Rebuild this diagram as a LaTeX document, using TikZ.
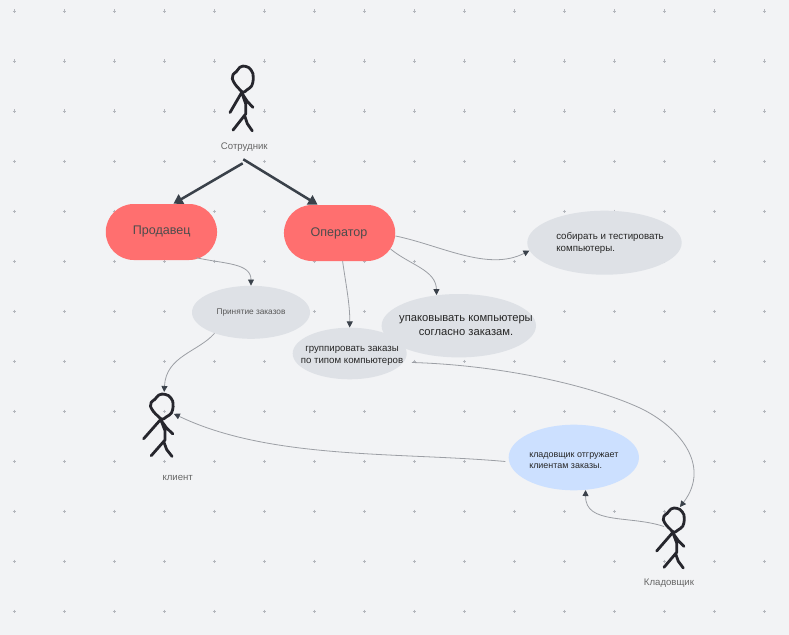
\documentclass[tikz,border=0pt]{standalone}
\usepackage{fontspec}
\setmainfont{Liberation Sans}
\usetikzlibrary{arrows.meta,calc,shapes.geometric,shapes.misc}

\definecolor{boardbg}{HTML}{F2F3F5}
\definecolor{gridplus}{HTML}{B4B7BD}
\definecolor{rolered}{HTML}{FF6F6F}
\definecolor{taskgrey}{HTML}{DEE1E6}
\definecolor{taskblue}{HTML}{CCE0FF}
\definecolor{inkdark}{HTML}{26262D}
\definecolor{linkgrey}{HTML}{9C9FA5}
\definecolor{tipdark}{HTML}{3A414A}

\tikzset{
    role/.style={rounded rectangle,fill=rolered,inner sep=0pt,minimum width=111.3*0.75pt,minimum height=56*0.75pt},
    task/.style={ellipse,fill=taskgrey,inner sep=0pt},
    tasktext/.style={inner sep=0pt,text=black!85,align=center,font=\fontsize{7.3}{9}\selectfont},
    rolename/.style={inner sep=0pt,text=black!70,font=\fontsize{9.4}{11}\selectfont},
    actorname/.style={inner sep=0pt,text=black!60,font=\fontsize{7.2}{9}\selectfont},
    link/.style={draw=linkgrey,line width=0.6pt,-{Triangle[color=tipdark,length=4.5pt,width=4.5pt]}},
    bigarrow/.style={draw=tipdark,line width=1.9pt,-{Triangle[length=7pt,width=8pt]}},
    stickman/.pic={
        \draw[inkdark,line width=2.1pt,line cap=round,line join=round]
            plot[smooth,tension=.6] coordinates {(-7.3,7) (-3,2) (0,1) (6,2.5) (10,8) (10.3,13) (8.7,19.3) (4,23) (0,25.3) (-4,22) (-8,17.7) (-10.7,12.7) (-10,9) (-6.5,6)}
            (-1.7,26) -- (#1,44)
            (-0.7,26.7) -- (4.3,33.7) -- (10,39.3)
            (-0.7,26.7) -- (2.7,36) -- (2.7,45.3) -- (-10,60.3)
            (1.5,46.5) -- (4.3,54.3) -- (9.3,61);
        \coordinate (-top) at (2,-1);
        \coordinate (-side) at (11,20);
        \coordinate (-left) at (-10,19.5);
    }
}

\begin{document}
\begin{tikzpicture}[x=0.75pt,y=-0.75pt]

    \fill[boardbg] (0,0) rectangle (789,635);
    \useasboundingbox (0,0) rectangle (789,635);

    % board grid
    \foreach \gx in {0,...,15}
        \foreach \gy in {0,...,12}
            \draw[gridplus,line width=0.7pt] ({14.3+50*\gx-1.8},{11.3+50*\gy}) -- ++(3.6,0) ({14.3+50*\gx},{11.3+50*\gy-1.8}) -- ++(0,3.6);

    % actors
    \pic[yscale=1.08] (staff) at (243,65) {stickman=-13};
    \pic[xscale=1.08,yscale=1.04] (client) at (162,393) {stickman=-17};
    \pic (keeper) at (674,507) {stickman=-17.3};

    \node[actorname] (staffname) at (244.3,146.7) {Сотрудник};
    \node[actorname] (clientname) at (177.7,477.5) {клиент};
    \node[actorname] (keepername) at (669,583) {Кладовщик};

    % roles
    \node[role] (seller) at (161.4,232) {};
    \node[role] (oper) at (339.6,233) {};
    \node[rolename] (sellername) at (161.7,231.7) {Продавец};
    \node[rolename] (opername) at (339,233) {Оператор};

    % tasks
    \node[task,minimum width=118*0.75pt,minimum height=53*0.75pt] (accept) at (251,312.3) {};
    \node[task,minimum width=154.4*0.75pt,minimum height=63.4*0.75pt] (pack) at (458.8,325.7) {};
    \node[task,minimum width=114*0.75pt,minimum height=51.6*0.75pt] (group) at (349.7,353.5) {};
    \node[task,minimum width=154.4*0.75pt,minimum height=64*0.75pt] (collect) at (604.5,242.7) {};
    \node[task,fill=taskblue,minimum width=130.3*0.75pt,minimum height=65.6*0.75pt] (ship) at (573.8,457.5) {};

    \node[tasktext,text=black!65,font=\fontsize{6.2}{8}\selectfont] (accepttext) at (251,312.5) {Принятие заказов};
    \node[tasktext,font=\fontsize{8.4}{10}\selectfont] (packtext) at (466,325.5) {упаковывать компьютеры\\согласно заказам.};
    \node[tasktext,font=\fontsize{7.25}{8.8}\selectfont] (grouptext) at (352,356) {группировать заказы\\по типом компьютеров};
    \node[tasktext,align=left,anchor=west] (collecttext) at (556,243) {собирать и тестировать\\компьютеры.};
    \node[tasktext,align=left,anchor=west,font=\fontsize{6.7}{8.3}\selectfont] (shiptext) at (529,460.5) {кладовщик отгружает\\клиентам заказы.};

    % connectors
    \draw[bigarrow] ($(staffname.south)+(-1.6,12)$) -- ($(seller.north)+(12,0)$);
    \draw[bigarrow] ($(staffname.south)+(-1,8)$) -- ($(oper.north)+(-22,0)$);

    \draw[link] ($(seller.south)+(35,-2.5)$) .. controls (225,264) and (251,263) .. (accept.north);
    \draw[link] (accept.210) .. controls (198,352) and (166,356) .. (client-top);
    \draw[link] ($(oper.south)+(3,0)$) .. controls (346,285) and (350,305) .. (group.north);
    \draw[link] ($(oper.east)+(-5,16)$) .. controls (410,265) and (436,270) .. (pack.126);
    \draw[link] ($(oper.east)+(0,3)$) .. controls (440,245) and (488,272) .. (collect.186);
    \draw[link] ($(group.east)+(5,9)$) .. controls (500,365) and (590,385) .. (640,408) .. controls (678,426) and (712,465) .. ($(keeper-top)+(4,1)$);
    \draw[link] (keeper-left) .. controls (630,515) and (585,525) .. (ship.290);
    \draw[link] ($(ship.west)+(-3,4)$) .. controls (400,452) and (270,460) .. (client-side);

\end{tikzpicture}
\end{document}
